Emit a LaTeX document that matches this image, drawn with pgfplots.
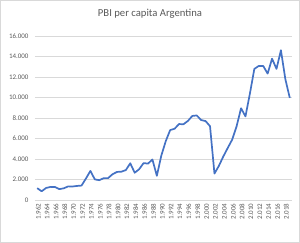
\documentclass[border=0pt]{standalone}
\usepackage{pgfplots}
\pgfplotsset{compat=1.18}
\usepackage{fontspec}
\setmainfont{Carlito}
\definecolor{lineblue}{HTML}{4472C4}
\definecolor{gridgray}{HTML}{D9D9D9}
\definecolor{textgray}{HTML}{595959}
\begin{document}
\begin{tikzpicture}[x=1bp,y=1bp]
\useasboundingbox (0,0) rectangle (300,243);
\draw[gridgray, line width=0.8bp] (0.5,0.5) rectangle (299.5,242.5);
\node[text=textgray, font=\fontsize{10.7}{12}\selectfont] at (150,229) {PBI per capita Argentina};
\begin{axis}[
  at={(35bp,43bp)}, anchor=south west,
  scale only axis, width=257bp, height=164bp,
  xmin=1961.5, xmax=2019.5, ymin=0, ymax=16000,
  axis line style={draw=none},
  major tick length=0pt,
  ymajorgrids, grid style={gridgray, line width=0.7bp},
  ytick={0,2000,...,16000},
  xtick={1962,1964,...,2018},
  scaled y ticks=false,
  /pgf/number format/.cd, 1000 sep={.}, assume math mode=true,
  /pgfplots/.cd,
  tick label style={text=textgray, font=\fontsize{7}{8}\selectfont},
  yticklabel style={xshift=-3bp},
  xticklabel style={rotate=90, anchor=east, xshift=0bp, yshift=-1bp},
  clip=false,
]
\addplot[lineblue, line width=1.7bp, line join=round] coordinates {
(1962,1155) (1963,850) (1964,1173) (1965,1279) (1966,1272) (1967,1062)
(1968,1141) (1969,1329) (1970,1318) (1971,1372) (1972,1407) (1973,2097)
(1974,2840) (1975,2010) (1976,1932) (1977,2131) (1978,2136) (1979,2517)
(1980,2738) (1981,2764) (1982,2920) (1983,3580) (1984,2660) (1985,3000)
(1986,3600) (1987,3550) (1988,3950) (1989,2360) (1990,4320) (1991,5730)
(1992,6820) (1993,6950) (1994,7410) (1995,7390) (1996,7710) (1997,8200)
(1998,8250) (1999,7800) (2000,7700) (2001,7200) (2002,2580) (2003,3330)
(2004,4250) (2005,5080) (2006,5890) (2007,7190) (2008,8950) (2009,8160)
(2010,10380) (2011,12790) (2012,13080) (2013,13080) (2014,12330) (2015,13790)
(2016,12790) (2017,14610) (2018,11790) (2019,9960)
};
\end{axis}
\end{tikzpicture}
\end{document}
